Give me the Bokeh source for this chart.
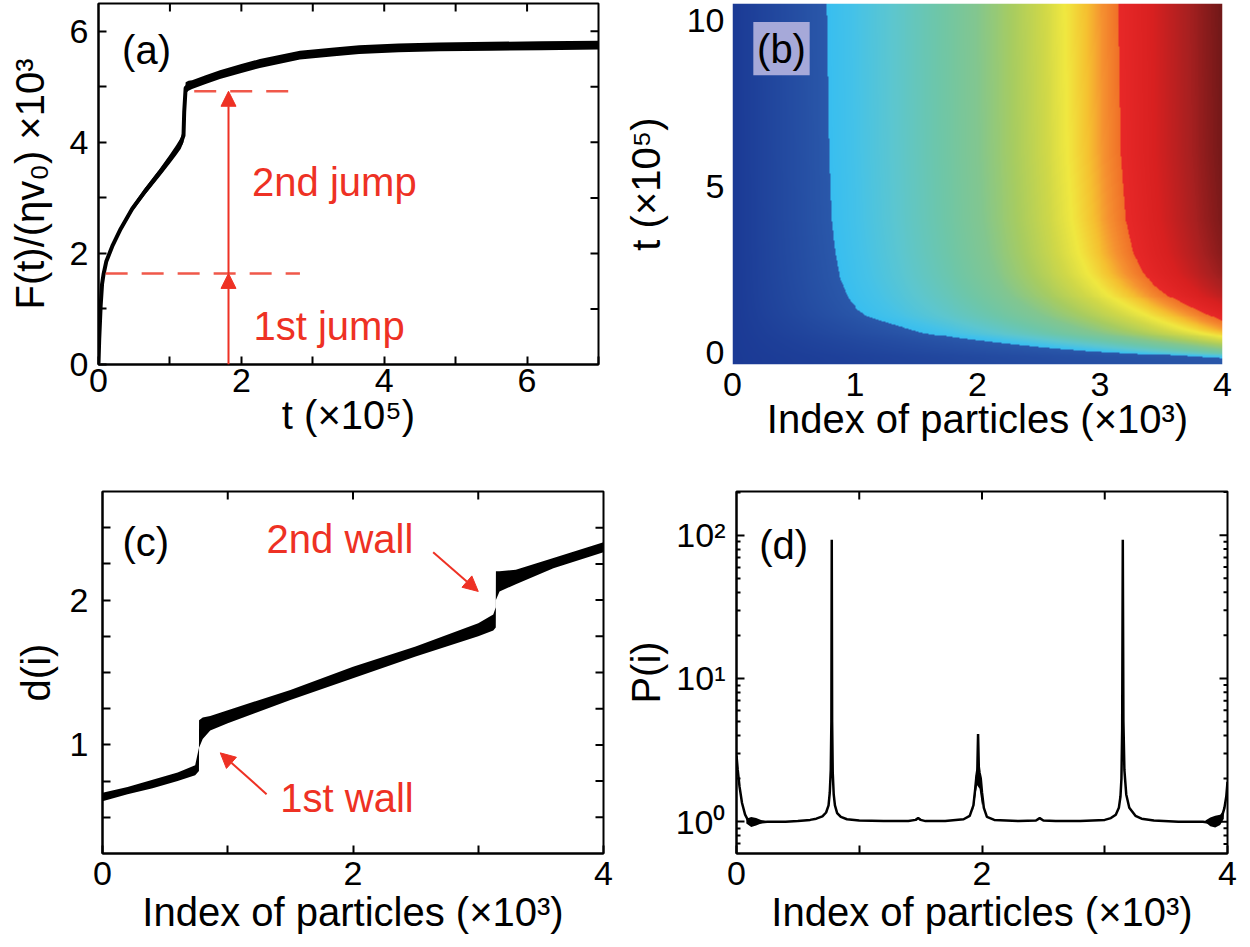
import numpy as np
from bokeh.plotting import figure
from bokeh.layouts import row, column
from bokeh.models import (FixedTicker, Range1d, Label, Arrow, NormalHead, BoxAnnotation,
                          LinearColorMapper)
from bokeh.embed import file_html
from bokeh.resources import INLINE

FONT = "Liberation Sans"
RED = "#ee3124"
TICK_FS = "34px"
LABEL_FS = "40px"

# ---------------- (a) force vs time ----------------
a_t = [0.00, 0.01, 0.03, 0.05, 0.07, 0.11, 0.20, 0.31, 0.47, 0.64, 0.86, 1.00, 1.09, 1.15,
       1.19, 1.20, 1.22, 1.26, 1.31, 1.50, 1.70, 2.00, 2.26, 2.82, 3.30, 3.65, 4.20, 4.77,
       5.50, 6.20, 7.00]
a_low = [0.00, 0.40, 0.99, 1.39, 1.56, 1.81, 2.10, 2.39, 2.75, 3.04, 3.39, 3.62, 3.77, 3.88,
         4.00, 4.45, 4.88, 4.93, 4.96, 5.05, 5.14, 5.25, 5.34, 5.49, 5.55, 5.59, 5.62, 5.64,
         5.65, 5.66, 5.67]
a_high = [0.05, 0.50, 1.11, 1.51, 1.68, 1.91, 2.20, 2.49, 2.85, 3.16, 3.53, 3.78, 3.95, 4.08,
          4.24, 4.65, 5.08, 5.11, 5.12, 5.21, 5.30, 5.41, 5.50, 5.65, 5.71, 5.75, 5.78, 5.80,
          5.81, 5.82, 5.83]
jump_levels = [1.64, 4.92]
jump_dash_start = [0.10, 1.34]
jump_dash_end = 2.82
jump_arrow_t = 1.82
jump_texts = ["1st jump", "2nd jump"]
jump_text_pos = [(2.17, 0.69), (2.15, 3.28)]

# ---------------- (b) space-time map ----------------
wall1_t = [-0.40, -0.18, -0.05, 0.05, 0.15, 0.30, 0.45, 0.60, 0.80, 1.05, 1.30, 1.60, 2.20,
           3.00, 4.00, 6.00, 10.60]
wall1_x = [4.30, 4.00, 3.40, 2.90, 2.55, 2.15, 1.80, 1.55, 1.35, 1.12, 1.02, 0.95, 0.88,
           0.84, 0.81, 0.79, 0.77]
wall2_t = [-0.40, 0.10, 0.40, 0.70, 0.95, 1.15, 1.40, 1.70, 2.00, 2.40, 3.00, 4.00, 6.00, 10.60]
wall2_x = [6.20, 5.20, 4.60, 4.20, 4.00, 3.88, 3.72, 3.56, 3.45, 3.35, 3.27, 3.21, 3.17, 3.15]
b_levels = [0.00, 0.20, 0.25, 0.30, 0.37, 0.46, 0.53, 0.60, 0.66, 0.70, 0.74, 0.77, 0.80,
            0.85, 0.90, 0.95, 1.00]
b_colors = ["#1b3a95", "#2a58aa", "#38bef0", "#45c2e8", "#5cc6d0", "#6ec6a8", "#82c690",
            "#a8cc60", "#d0d848", "#f0e840", "#f5c030", "#f59030", "#f07028", "#e82828",
            "#d82020", "#a82020", "#701818"]

# ---------------- (c) d(i) ----------------
c_x = [0.00, 0.20, 0.40, 0.60, 0.74, 0.770, 0.771, 0.80, 0.86, 1.00, 1.50, 2.00, 2.50, 3.00,
       3.12, 3.140, 3.141, 3.17, 3.30, 3.60, 4.00]
c_low = [0.61, 0.66, 0.70, 0.75, 0.79, 0.82, 0.98, 1.04, 1.10, 1.15, 1.31, 1.46, 1.61, 1.75,
         1.79, 1.81, 2.00, 2.06, 2.11, 2.22, 2.33]
c_high = [0.67, 0.71, 0.76, 0.81, 0.86, 0.98, 1.17, 1.19, 1.20, 1.24, 1.38, 1.54, 1.68, 1.84,
          1.90, 1.95, 2.20, 2.20, 2.21, 2.29, 2.40]
wall_texts = ["1st wall", "2nd wall"]
wall_text_pos = [(1.42, 0.635), (1.31, 2.42)]
wall_arrows = [((1.31, 0.66), (0.94, 0.945)), ((2.64, 2.33), (3.00, 2.06))]

# ---------------- (d) P(i) ----------------
d_x = [0.000, 0.010, 0.025, 0.045, 0.070, 0.100, 0.130, 0.160, 0.200, 0.250, 0.300, 0.400,
       0.500, 0.600, 0.650, 0.700, 0.730, 0.750, 0.760, 0.768, 0.773, 0.776, 0.779, 0.784,
       0.792, 0.802, 0.820, 0.850, 0.900, 1.000, 1.200, 1.400, 1.460, 1.480, 1.500, 1.540,
       1.700, 1.850, 1.900, 1.930, 1.945, 1.955, 1.962, 1.968, 1.974, 1.980, 1.990, 2.000,
       2.015, 2.040, 2.100, 2.300, 2.440, 2.470, 2.500, 2.600, 2.800, 3.000, 3.050, 3.090,
       3.115, 3.128, 3.136, 3.142, 3.147, 3.152, 3.160, 3.175, 3.200, 3.250, 3.300, 3.400,
       3.600, 3.800, 3.900, 3.950, 3.975, 3.990, 4.000]
d_p = [2.9, 2.3, 1.75, 1.35, 1.12, 1.0, 0.96, 0.98, 0.99, 1.0, 1.0, 1.0,
       1.01, 1.03, 1.05, 1.09, 1.16, 1.3, 1.6, 2.3, 5.0, 93.0, 5.0, 2.2,
       1.55, 1.3, 1.15, 1.08, 1.04, 1.02, 1.01, 1.01, 1.03, 1.06, 1.03, 1.01,
       1.01, 1.04, 1.1, 1.3, 1.7, 2.1, 2.3, 4.1, 2.4, 2.2, 2.0, 1.6,
       1.25, 1.08, 1.03, 1.01, 1.02, 1.06, 1.02, 1.01, 1.01, 1.03, 1.06, 1.12,
       1.25, 1.5, 2.0, 4.5, 93.0, 5.0, 2.3, 1.55, 1.25, 1.1, 1.05, 1.02,
       1.0, 1.0, 0.97, 1.05, 1.25, 1.5, 1.9]
d_band_x = [[0.08, 0.12, 0.16, 0.20, 0.24], [1.93, 1.95, 1.96, 1.98, 2.00],
            [3.82, 3.86, 3.90, 3.94, 3.97]]
d_band_low = [[0.97, 0.92, 0.94, 0.97, 0.99], [1.20, 1.60, 1.80, 1.70, 1.30],
              [0.99, 0.93, 0.91, 0.95, 1.05]]
d_band_high = [[1.05, 1.08, 1.06, 1.03, 1.01], [1.40, 2.10, 2.40, 2.30, 1.80],
               [1.02, 1.07, 1.10, 1.12, 1.20]]


def mkfig(w, h, bl, br, bt, bb, xr, yr, y_type="linear"):
    p = figure(width=w, height=h, x_range=Range1d(*xr), y_range=Range1d(*yr),
               y_axis_type=y_type, toolbar_location=None, output_backend="svg",
               min_border_left=bl, min_border_right=br, min_border_top=bt,
               min_border_bottom=bb)
    p.xgrid.visible = False
    p.ygrid.visible = False
    p.outline_line_color = "black"
    p.outline_line_width = 2
    p.background_fill_color = "white"
    p.border_fill_color = "white"
    return p


def style_axis(ax, ticks, minor, s1=6, s2=4, minor_len=8, overrides=None):
    ax.ticker = FixedTicker(ticks=ticks, minor_ticks=minor)
    ax.axis_line_color = "black"
    ax.axis_line_width = 2
    ax.major_tick_in = 8
    ax.major_tick_out = 0
    ax.minor_tick_in = minor_len
    ax.minor_tick_out = 0
    ax.major_tick_line_width = 2
    ax.minor_tick_line_width = 2
    ax.major_label_text_font = FONT
    ax.major_label_text_font_size = TICK_FS
    ax.major_label_text_color = "black"
    ax.major_label_standoff = s1
    ax.axis_label_text_font = FONT
    ax.axis_label_text_font_size = LABEL_FS
    ax.axis_label_text_font_style = "normal"
    ax.axis_label_text_color = "black"
    ax.axis_label_standoff = s2
    if overrides:
        ax.major_label_overrides = overrides


def mirror_ticks(p, xt, yt, y_top, x_right, ylen=None):
    # inward tick marks on the top and right frame edges
    p.ray(x=xt, y=[y_top] * len(xt), length=8, length_units="screen", angle=-np.pi / 2,
          line_color="black", line_width=2)
    lens = ylen if ylen is not None else [8] * len(yt)
    p.ray(x=[x_right] * len(yt), y=yt, length=lens, length_units="screen", angle=np.pi,
          line_color="black", line_width=2)


def txt(p, x, y, s, color="black", align="left", size=LABEL_FS):
    p.add_layout(Label(x=x, y=y, text=s, text_font=FONT, text_font_size=size,
                       text_color=color, text_align=align, text_baseline="middle"))


# ---------------- panel (a) ----------------
a_xr, a_yr = (0, 7), (0, 6.5)
pa = mkfig(620, 460, 98, 22, 3, 93, a_xr, a_yr)
style_axis(pa.xaxis[0], [0, 2, 4, 6], [1, 3, 5, 7], s1=4, s2=-2)
style_axis(pa.yaxis[0], [0, 2, 4, 6], [1, 3, 5], s1=10, s2=15)
pa.xaxis[0].axis_label = "t (×10⁵)"
pa.yaxis[0].axis_label = "F(t)/(ηv₀) ×10³"
mirror_ticks(pa, list(range(1, 7)), list(range(1, 7)), a_yr[1], a_xr[1])
pa.varea(x=a_t, y1=a_low, y2=a_high, fill_color="black")
pa.line(x=a_t, y=[(l + h) / 2 for l, h in zip(a_low, a_high)], line_color="black",
        line_width=4)
for lvl, x0 in zip(jump_levels, jump_dash_start):
    pa.line(x=[x0, jump_dash_end], y=[lvl, lvl], line_color="#f0584a", line_width=2.5,
            line_dash="22 14")
for ys, ye in ((0, jump_levels[0]), (jump_levels[0], jump_levels[1])):
    pa.add_layout(Arrow(x_start=jump_arrow_t, y_start=ys, x_end=jump_arrow_t, y_end=ye,
                        line_color=RED, line_width=2,
                        end=NormalHead(size=15, fill_color=RED, line_color=RED, line_width=1)))
for s, (x, y) in zip(jump_texts, jump_text_pos):
    txt(pa, x, y, s, color=RED)
txt(pa, 0.33, 5.66, "(a)")

# ---------------- panel (b) ----------------
y0, y1 = -0.36, 10.51
pb = mkfig(630, 460, 111, 28, 3, 96, (0, 4), (y0, y1))
style_axis(pb.xaxis[0], [0, 1, 2, 3, 4], [], s1=8, s2=-2)
style_axis(pb.yaxis[0], [0, 5, 10], [], s1=8, s2=16)
for ax in (pb.xaxis[0], pb.yaxis[0]):
    ax.axis_line_color = None
    ax.major_tick_line_color = None
    ax.minor_tick_line_color = None
pb.xaxis[0].axis_label = "Index of particles (×10³)"
pb.yaxis[0].axis_label = "t (×10⁵)"
pb.outline_line_color = None

nx, ny = 500, 380
xs = (np.arange(nx) + 0.5) / nx * 4.0
ys = y0 + (np.arange(ny) + 0.5) / ny * (y1 - y0)
X, T = np.meshgrid(xs, ys)
w1 = np.interp(T, wall1_t, wall1_x)
w2 = np.interp(T, wall2_t, wall2_x)
span_c = 4.0 - wall2_x[-1]
vA = 0.20 * np.clip(X / w1, 0, 1)
vB = 0.25 + 0.55 * np.clip((X - w1) / (w2 - w1), 0, 1)
vC = 0.85 + 0.15 * np.clip((X - w2) / span_c, 0, 1)
field = np.where(X < w1, vA, np.where(X < w2, vB, vC))


def hex2rgb(h):
    return [int(h[i:i + 2], 16) for i in (1, 3, 5)]


rgb = np.array([hex2rgb(c) for c in b_colors], dtype=float)
palette = []
for g in np.linspace(0, 1, 512):
    ch = [int(round(np.interp(g, b_levels, rgb[:, k]))) for k in range(3)]
    palette.append("#%02x%02x%02x" % tuple(ch))
mapper = LinearColorMapper(palette=palette, low=0, high=1)
pb.image(image=[field], x=0, y=y0, dw=4, dh=y1 - y0, color_mapper=mapper)
pb.add_layout(BoxAnnotation(left=0.17, right=0.63, bottom=8.35, top=9.95,
                            fill_color="#a6a9d9", fill_alpha=1, line_color=None))
txt(pb, 0.40, 9.15, "(b)", align="center")

# ---------------- panel (c) ----------------
c_xr, c_yr = (0, 4), (0.25, 2.75)
c_minor = [0.5, 0.75, 1.25, 1.5, 1.75, 2.25, 2.5]
pc = mkfig(620, 487, 102, 17, 31, 94, c_xr, c_yr)
style_axis(pc.xaxis[0], [0, 2, 4], [1, 3], s1=8, s2=2)
style_axis(pc.yaxis[0], [1, 2], c_minor, s1=14, s2=9)
pc.xaxis[0].axis_label = "Index of particles (×10³)"
pc.yaxis[0].axis_label = "d(i)"
mirror_ticks(pc, [1, 2, 3], sorted([1, 2] + c_minor), c_yr[1], c_xr[1])
pc.varea(x=c_x, y1=c_low, y2=c_high, fill_color="black")
for (xs0, ys0), (xe, ye) in wall_arrows:
    pc.add_layout(Arrow(x_start=xs0, y_start=ys0, x_end=xe, y_end=ye, line_color=RED,
                        line_width=2,
                        end=NormalHead(size=15, fill_color=RED, line_color=RED, line_width=1)))
for s, (x, y) in zip(wall_texts, wall_text_pos):
    txt(pc, x, y, s, color=RED)
txt(pc, 0.16, 2.40, "(c)")

# ---------------- panel (d) ----------------
d_xr, d_yr = (0, 4), (0.6, 202)
d_minor = [0.7, 0.8, 0.9, 2, 3, 4, 5, 6, 7, 8, 9, 20, 30, 40, 50, 60, 70, 80, 90, 200]
d_over = {1: "10⁰", 10: "10¹", 100: "10²"}
pd = mkfig(630, 487, 113, 23, 29, 94, d_xr, d_yr, y_type="log")
style_axis(pd.xaxis[0], [0, 2, 4], [1, 3], s1=8, s2=2)
style_axis(pd.yaxis[0], [1, 10, 100], d_minor, s1=11, s2=5, minor_len=4, overrides=d_over)
pd.xaxis[0].axis_label = "Index of particles (×10³)"
pd.yaxis[0].axis_label = "P(i)"
d_right = [1, 10, 100] + d_minor
mirror_ticks(pd, [1, 2, 3], d_right, d_yr[1], d_xr[1],
             ylen=[8, 8, 8] + [4] * len(d_minor))
for bx, bl_, bh in zip(d_band_x, d_band_low, d_band_high):
    pd.varea(x=bx, y1=bl_, y2=bh, fill_color="black")
pd.line(x=d_x, y=d_p, line_color="black", line_width=2.5)
txt(pd, 0.185, 85, "(d)")

layout = column(row(pa, pb), row(pc, pd))
open("out.html", "w").write(file_html(layout, INLINE))
